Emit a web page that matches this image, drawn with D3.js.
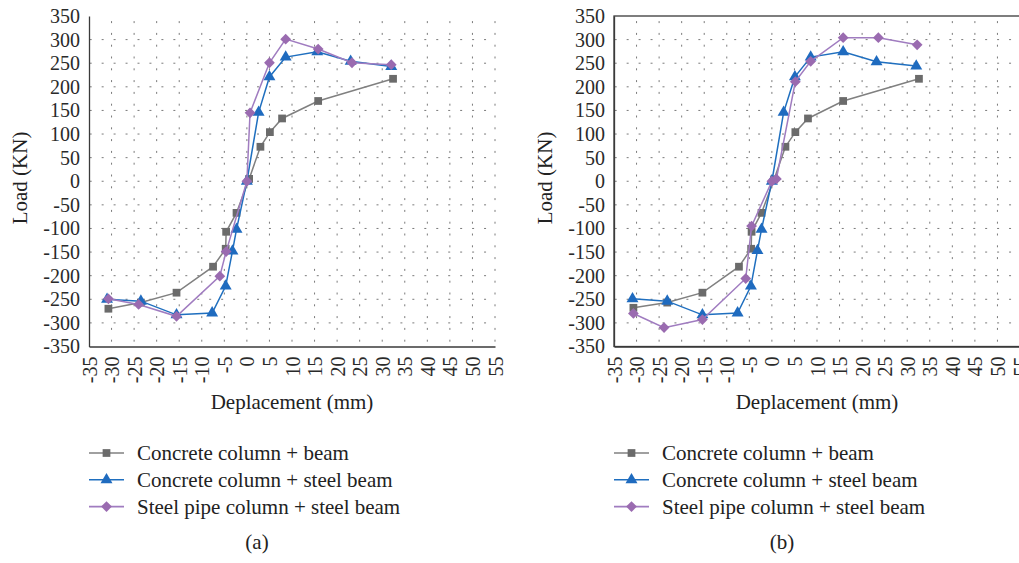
<!DOCTYPE html>
<html lang="en">
<head>
<meta charset="UTF-8">
<title>Load - displacement skeleton curves</title>
<script src="https://cdn.jsdelivr.net/npm/d3@7"></script>
<style>
    body { margin: 0; padding: 0; background: #ffffff; }
    svg { display: block; }
    text { font-family: "Liberation Serif", "Times New Roman", serif; fill: #222222; }
    .tick text { font-size: 20px; fill: #2a2a2a; }
    .axis path.domain { stroke: #3a3a3a; stroke-width: 1.3px; }
    .axis-title { font-size: 21px; }
    .legend text { font-size: 21px; }
    .caption { font-size: 21px; }
    .grid line { stroke: #7a7a7a; stroke-width: 1px; }
</style>
</head>
<body>
<div id="chart"></div>
<script>
// tick labels
const xTicks = [-35, -30, -25, -20, -15, -10, -5, 0, 5, 10, 15, 20, 25, 30, 35, 40, 45, 50, 55];
const yTicks = [-350, -300, -250, -200, -150, -100, -50, 0, 50, 100, 150, 200, 250, 300, 350];

const seriesNames = ["Concrete column + beam", "Concrete column + steel beam", "Steel pipe column + steel beam"];

// panel (a) - displacement (mm) and load (KN)
const aConcBeamX  = [-30.7, -23.5, -15.6, -7.5, -4.7, -4.6, -2.3, 0.5, 3, 5.1, 7.8, 15.8, 32.4];
const aConcBeamY  = [-270, -257, -236, -181, -143, -107, -67, 5, 73, 104, 133, 170, 217];
const aConcSteelX = [-31, -23.5, -15.6, -7.7, -4.7, -3.2, -2.3, 0, 2.6, 5, 8.6, 15.6, 23, 32];
const aConcSteelY = [-250, -254, -283, -279, -222, -148, -102, 0, 146, 221, 263, 274, 254, 243];
const aPipeSteelX = [-30.7, -24, -15.6, -6, -4.6, 0, 0.7, 5, 8.6, 15.8, 23.3, 32];
const aPipeSteelY = [-249, -261, -286, -201, -149, 0, 145, 251, 301, 280, 251, 247];

// panel (b)
const bConcBeamX  = [-30.7, -23.2, -15.4, -7.3, -4.6, -4.5, -2.3, 0.5, 3, 5.2, 8, 15.8, 32.6];
const bConcBeamY  = [-268, -257, -236, -181, -143, -107, -67, 4, 73, 104, 133, 170, 217];
const bConcSteelX = [-30.9, -23.2, -15.4, -7.6, -4.65, -3.2, -2.3, 0, 2.6, 5.1, 8.6, 15.8, 23.2, 32];
const bConcSteelY = [-249, -254, -283, -279, -222, -147, -102, 0, 146, 221, 263, 274, 253, 244];
const bPipeSteelX = [-30.7, -23.9, -15.4, -5.8, -4.5, 0, 1, 5.2, 8.6, 15.8, 23.6, 32.2];
const bPipeSteelY = [-280, -310, -293, -206, -95, 0, 5, 211, 254, 304, 304, 289];

// diamonds are squares turned by 45 degrees
const styles = [
    { line: "#808080", fill: "#6b6b6b", symbol: d3.symbolSquare, size: 60, rot: 0 },
    { line: "#1f6fbf", fill: "#1f6bbf", symbol: d3.symbolTriangle, size: 62, rot: 0 },
    { line: "#a07cc0", fill: "#9a6bb0", symbol: d3.symbolSquare, size: 58, rot: 45 }
];

const zip = (xs, ys) => xs.map((x, i) => ({ x: x, y: ys[i] }));

const panels = [
    { left: 89, caption: "(a)", frame: false,
      series: [zip(aConcBeamX, aConcBeamY), zip(aConcSteelX, aConcSteelY), zip(aPipeSteelX, aPipeSteelY)] },
    { left: 614, caption: "(b)", frame: true,
      series: [zip(bConcBeamX, bConcBeamY), zip(bConcSteelX, bConcSteelY), zip(bPipeSteelX, bPipeSteelY)] }
];

const width = 1019, height = 563;
const plotTop = 16, plotW = 406, plotH = 330.5;

const svg = d3.select("#chart").append("svg")
    .attr("width", width)
    .attr("height", height);

panels.forEach(function(p) {
    const x = d3.scaleLinear().domain([-35, 55]).range([p.left, p.left + plotW]);
    const y = d3.scaleLinear().domain([-350, 350]).range([plotTop + plotH, plotTop]);

    const g = svg.append("g");

    // dotted grid
    const grid = g.append("g").attr("class", "grid");
    grid.selectAll("line.v")
        .data(xTicks.slice(1))
        .join("line")
        .attr("class", "v")
        .attr("x1", d => x(d)).attr("x2", d => x(d))
        .attr("y1", y(-350)).attr("y2", y(350))
        .attr("stroke-dasharray", "2,9.8")
        .attr("stroke-dashoffset", -4.8);
    grid.selectAll("line.h")
        .data(yTicks.slice(1, -1))
        .join("line")
        .attr("class", "h")
        .attr("x1", x(-35)).attr("x2", x(55))
        .attr("y1", d => y(d)).attr("y2", d => y(d))
        .attr("stroke-dasharray", "2,9.95")
        .attr("stroke-dashoffset", -0.7);

    if (p.frame) {
        g.append("rect")
            .attr("x", x(-35)).attr("y", y(350))
            .attr("width", x(55) - x(-35)).attr("height", y(-350) - y(350))
            .attr("fill", "none")
            .attr("stroke", "#3a3a3a")
            .attr("stroke-width", 1.3);
    }

    // axes
    g.append("g")
        .attr("class", "axis")
        .attr("transform", "translate(0," + y(-350) + ")")
        .call(d3.axisBottom(x).tickValues(xTicks).tickSize(0).tickFormat(d => String(d)))
        .selectAll(".tick text")
        .attr("transform", "rotate(-90)")
        .attr("x", -10)
        .attr("y", 0)
        .attr("dy", "0.35em")
        .style("text-anchor", "end");

    g.append("g")
        .attr("class", "axis")
        .attr("transform", "translate(" + x(-35) + ",0)")
        .call(d3.axisLeft(y).tickValues(yTicks).tickSize(0).tickPadding(9).tickFormat(d => String(d)));

    // series lines and markers
    const line = d3.line().x(d => x(d.x)).y(d => y(d.y));
    p.series.forEach(function(s, i) {
        const st = styles[i];
        g.append("path")
            .datum(s)
            .attr("d", line)
            .attr("fill", "none")
            .attr("stroke", st.line)
            .attr("stroke-width", 1.5);
        g.append("g")
            .selectAll("path")
            .data(s)
            .join("path")
            .attr("transform", d => "translate(" + x(d.x) + "," + y(d.y) + ") rotate(" + st.rot + ")")
            .attr("d", d3.symbol().type(st.symbol).size(st.size))
            .attr("fill", st.fill);
    });

    // axis titles
    g.append("text")
        .attr("class", "axis-title")
        .attr("x", x(10))
        .attr("y", 409)
        .attr("text-anchor", "middle")
        .text("Deplacement (mm)");

    g.append("text")
        .attr("class", "axis-title")
        .attr("transform", "translate(" + (p.left - 62) + "," + y(7) + ") rotate(-90)")
        .attr("text-anchor", "middle")
        .text("Load (KN)");

    // legend
    const legend = g.append("g").attr("class", "legend")
        .selectAll("g")
        .data(seriesNames)
        .join("g")
        .attr("transform", (d, i) => "translate(" + p.left + "," + (453 + i * 26.8) + ")");
    legend.append("line")
        .attr("x1", 0).attr("x2", 35)
        .attr("stroke", (d, i) => styles[i].line)
        .attr("stroke-width", 1.6);
    legend.append("path")
        .attr("transform", (d, i) => "translate(17.5,0) rotate(" + styles[i].rot + ")")
        .attr("d", (d, i) => d3.symbol().type(styles[i].symbol).size(styles[i].size)())
        .attr("fill", (d, i) => styles[i].fill);
    legend.append("text")
        .attr("x", 48)
        .attr("y", 7)
        .text(d => d);

    g.append("text")
        .attr("class", "caption")
        .attr("x", p.left + 168)
        .attr("y", 549)
        .attr("text-anchor", "middle")
        .text(p.caption);
});
</script>
</body>
</html>
